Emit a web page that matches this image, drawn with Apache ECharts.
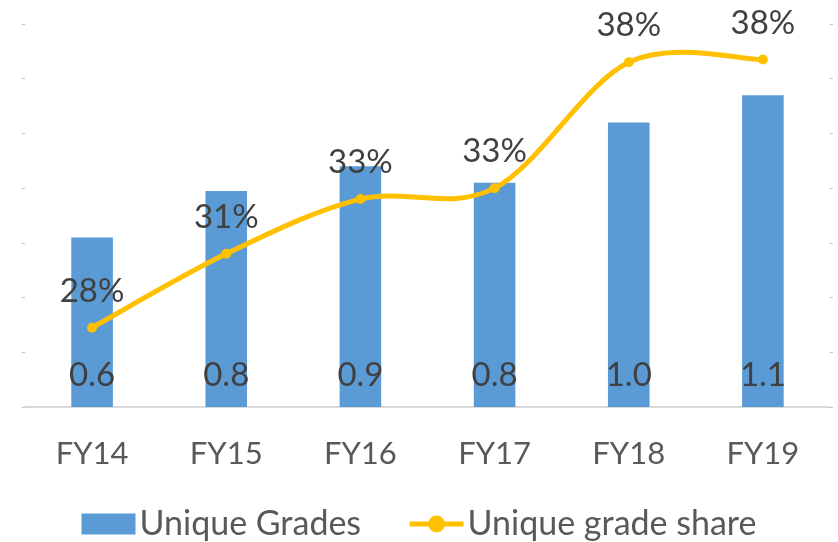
<!DOCTYPE html>
<html>
<head>
<meta charset="utf-8">
<style>
  html, body { margin: 0; padding: 0; background: #ffffff; }
  #chart { width: 838px; height: 542px; }
</style>
<script src="https://cdn.jsdelivr.net/npm/echarts@6/dist/echarts.min.js"></script>
</head>
<body>
<div id="chart"></div>
<script>
// Fiscal years on the category axis
const years = ['FY14', 'FY15', 'FY16', 'FY17', 'FY18', 'FY19'];
// Unique grades (bars, left axis)
const uniqueGrades = [0.62, 0.79, 0.88, 0.82, 1.04, 1.14];
// Unique grade share (line, right axis)
const gradeShare = [0.279, 0.306, 0.326, 0.330, 0.376, 0.377];

const FONT = 'Lato';
const LINE_COLOR = '#ffc000';
const chart = echarts.init(document.getElementById('chart'));

// Cardinal-spline curve through the share points (tension 1/6 per side),
// drawn one bezier segment per point pair using the chart's own coordinates.
function renderShareCurve(params, api) {
  const i = params.dataIndex;
  const n = gradeShare.length;
  if (i >= n - 1) return null;
  const pt = k => {
    const c = Math.max(0, Math.min(n - 1, k));
    return api.coord([c, gradeShare[c]]);
  };
  const p0 = pt(i - 1), p1 = pt(i), p2 = pt(i + 1), p3 = pt(i + 2);
  return {
    type: 'bezierCurve',
    shape: {
      x1: p1[0], y1: p1[1],
      x2: p2[0], y2: p2[1],
      cpx1: p1[0] + (p2[0] - p0[0]) / 6,
      cpy1: p1[1] + (p2[1] - p0[1]) / 6,
      cpx2: p2[0] - (p3[0] - p1[0]) / 6,
      cpy2: p2[1] - (p3[1] - p1[1]) / 6
    },
    style: { stroke: LINE_COLOR, lineWidth: 5, fill: null, lineCap: 'round' }
  };
}

chart.setOption({
  animation: false,
  textStyle: { fontFamily: FONT },
  grid: { left: 25, right: 8, top: 24, bottom: 135 },
  legend: {
    bottom: 1,
    left: 'center',
    padding: 0,
    itemWidth: 54,
    itemHeight: 21,
    itemGap: 46,
    textStyle: { fontFamily: FONT, fontSize: 34, color: '#595959', padding: [0, 0, 0, -1] },
    data: [
      { name: 'Unique Grades', icon: 'rect' },
      { name: 'Unique grade share', lineStyle: { color: LINE_COLOR, width: 5, opacity: 1 } }
    ]
  },
  xAxis: {
    type: 'category',
    data: years,
    axisLine: { lineStyle: { color: '#d9d9d9', width: 2 } },
    axisTick: { show: false },
    axisLabel: { fontFamily: FONT, fontSize: 31, color: '#595959', margin: 31 }
  },
  yAxis: [
    {
      type: 'value',
      min: 0, max: 1.4, interval: 0.2,
      axisLine: { show: false },
      axisTick: { show: true, length: 3, lineStyle: { color: '#bfbfbf' } },
      axisLabel: { show: false },
      splitLine: { show: false }
    },
    {
      type: 'value',
      min: 0.25, max: 0.39, interval: 0.02,
      position: 'right',
      axisLine: { show: false },
      axisTick: { show: true, length: 3, lineStyle: { color: '#bfbfbf' } },
      axisLabel: { show: false },
      splitLine: { show: false }
    }
  ],
  series: [
    {
      name: 'Unique Grades',
      type: 'bar',
      data: uniqueGrades,
      barWidth: '31%',
      itemStyle: { color: '#5b9bd5' },
      label: {
        show: true,
        position: 'insideBottom',
        distance: 15,
        fontFamily: FONT,
        fontSize: 33,
        color: '#404040',
        formatter: p => p.value.toFixed(1)
      },
      z: 2
    },
    {
      name: 'share-curve',
      type: 'custom',
      yAxisIndex: 1,
      data: gradeShare.map((v, i) => [i, v]),
      renderItem: renderShareCurve,
      silent: true,
      z: 3
    },
    {
      name: 'Unique grade share',
      type: 'line',
      yAxisIndex: 1,
      data: gradeShare,
      symbol: 'circle',
      symbolSize: 10,
      lineStyle: { color: LINE_COLOR, width: 5, opacity: 0 },
      itemStyle: { color: LINE_COLOR },
      label: {
        show: true,
        position: 'top',
        distance: 15,
        fontFamily: FONT,
        fontSize: 33,
        color: '#404040',
        formatter: p => Math.round(p.value * 100) + '%'
      },
      z: 4
    }
  ]
});
</script>
</body>
</html>
